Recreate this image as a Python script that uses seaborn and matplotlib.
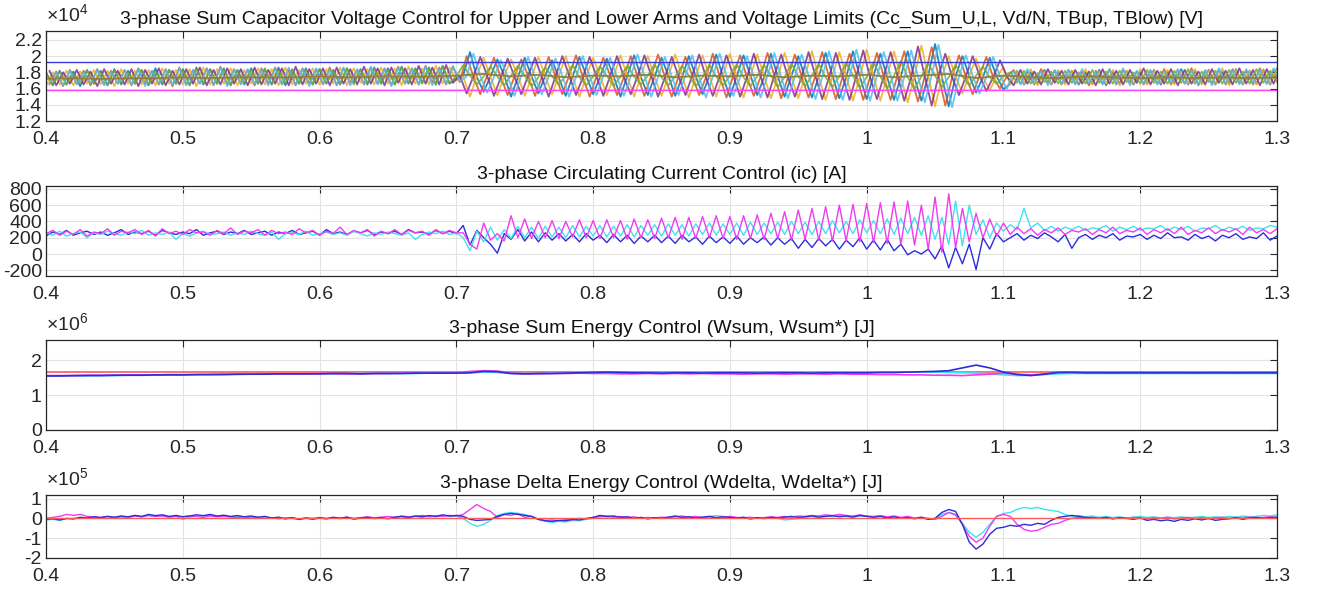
import numpy as np
import matplotlib
matplotlib.use('Agg')
import matplotlib.pyplot as plt
from matplotlib.ticker import FuncFormatter
from matplotlib.transforms import ScaledTranslation
import seaborn as sns

# ---------------- data ----------------
# Panel 1: arm sum capacitor voltages [kV], one value every 5 ms from 0.4 s
cap_1 = [18.0,16.4,18.2,16.5,18.1,16.3,18.3,16.6,18.2,16.4, 18.4,16.5,18.2,16.6,18.3,16.4,18.5,16.5,18.3,16.6,
         18.4,16.4,18.6,16.5,18.4,16.6,18.5,16.4,18.3,16.5, 18.5,16.6,18.4,16.5,18.6,16.4,18.3,16.6,18.5,16.5,
         18.4,16.6,18.3,16.5,18.5,16.7,18.4,16.5,18.6,16.6, 18.5,16.5,18.7,16.6,18.5,16.7,18.6,16.5,18.8,16.6, 17.4,
         17.6,20.5,17.4,15.6, 17.5,19.6,17.6,15.0, 17.4,19.8,17.5,15.4, 17.6,19.5,17.3,15.1, 17.5,19.9,17.6,15.3,
         17.4,19.7,17.5,15.0, 17.6,20.1,17.4,15.2, 17.5,19.8,17.6,15.1, 17.4,20.0,17.5,15.3, 17.6,20.2,17.4,15.0,
         17.5,20.1,17.6,15.2, 17.4,20.3,17.5,15.0, 17.6,20.0,17.3,14.9, 17.5,20.4,17.6,14.8, 17.4,20.6,17.5,14.7,
         17.6,20.3,17.4,14.6, 17.5,20.6,17.3,14.5, 17.6,21.5,17.4,13.8, 17.5,20.0,17.6,15.5, 17.4,19.8,17.5,15.9,
         16.6,18.2,16.5,18.0,16.6,18.3,16.5,18.1,16.7,18.2, 16.5,18.0,16.6,18.3,16.4,18.1,16.6,18.2,16.5,18.0,
         16.6,18.3,16.5,18.1,16.7,18.4,16.5,18.2,16.6,18.3, 16.5,18.1,16.6,18.4,16.5,18.2,16.6,18.3,16.5,18.5]
cap_2 = [16.5,18.1,16.3,18.3,16.6,18.2,16.4,18.4,16.5,18.2, 16.6,18.3,16.4,18.5,16.6,18.2,16.5,18.4,16.3,18.6,
         16.5,18.3,16.6,18.5,16.4,18.7,16.5,18.4,16.6,18.3, 16.4,18.5,16.6,18.6,16.5,18.3,16.4,18.5,16.6,18.4,
         16.5,18.6,16.4,18.5,16.7,18.3,16.5,18.6,16.6,18.5, 16.4,18.7,16.6,18.5,16.5,18.8,16.7,18.6,16.5,18.7, 16.8,
         20.0,17.5,15.3,17.6, 19.8,17.4,15.2,17.5, 19.6,17.6,15.1,17.4, 19.9,17.5,15.3,17.6, 20.1,17.4,15.0,17.5,
         19.8,17.6,15.2,17.4, 20.0,17.5,15.1,17.6, 20.2,17.4,15.0,17.5, 19.9,17.6,15.2,17.4, 20.3,17.5,14.9,17.6,
         20.1,17.4,15.1,17.5, 20.4,17.6,14.8,17.4, 20.2,17.5,14.9,17.6, 20.5,17.4,14.7,17.5, 20.3,17.6,14.6,17.4,
         20.4,17.5,14.6,17.6, 20.6,17.4,14.4,17.5, 21.1,17.6,13.9,17.4, 20.1,17.5,15.3,17.6, 19.9,17.4,16.0,17.5,
         18.3,16.6,18.1,16.5,18.4,16.7,18.2,16.5,18.3,16.6, 18.1,16.4,18.2,16.6,18.4,16.5,18.3,16.7,18.1,16.5,
         18.2,16.6,18.4,16.5,18.3,16.6,18.5,16.4,18.2,16.6, 18.3,16.5,18.4,16.7,18.2,16.5,18.5,16.6,18.3,16.5]
cap_3 = [16.3,18.0,16.5,18.2,16.4,18.1,16.6,18.3,16.5,18.2, 16.3,18.4,16.6,18.2,16.5,18.3,16.4,18.5,16.6,18.3,
         16.5,18.4,16.3,18.6,16.5,18.4,16.6,18.5,16.4,18.3, 16.6,18.5,16.5,18.4,16.4,18.6,16.5,18.3,16.6,18.5,
         16.5,18.4,16.6,18.6,16.4,18.5,16.7,18.4,16.5,18.6, 16.6,18.5,16.4,18.7,16.6,18.5,16.5,18.8,16.6,18.6, 17.0,
         17.5,15.0,17.6,19.8, 17.4,15.2,17.5,19.6, 17.6,15.1,17.4,19.9, 17.5,15.3,17.6,20.0, 17.4,15.0,17.5,19.8,
         17.6,15.2,17.4,20.1, 17.5,15.0,17.6,20.0, 17.4,15.1,17.5,20.2, 17.6,14.9,17.4,20.1, 17.5,15.0,17.6,20.3,
         17.4,14.9,17.5,20.2, 17.6,14.8,17.4,20.4, 17.5,14.8,17.6,20.6, 17.4,14.6,17.5,20.5, 17.6,14.5,17.4,20.8,
         17.5,14.5,17.6,20.6, 17.4,14.3,17.5,21.3, 17.6,13.8,17.4,20.0, 17.5,15.4,17.6,19.7, 17.4,15.8,17.5,18.6,
         16.5,18.2,16.6,18.4,16.4,18.1,16.6,18.3,16.5,18.2, 16.7,18.4,16.5,18.1,16.6,18.3,16.4,18.2,16.6,18.4,
         16.5,18.2,16.7,18.3,16.5,18.1,16.6,18.4,16.5,18.2, 16.6,18.5,16.4,18.3,16.6,18.2,16.5,18.4,16.6,18.3]
cap_4 = [18.2,16.4,18.0,16.6,18.3,16.5,18.1,16.3,18.4,16.6, 18.2,16.5,18.4,16.3,18.3,16.6,18.5,16.4,18.2,16.5,
         18.4,16.6,18.6,16.4,18.3,16.5,18.5,16.6,18.4,16.4, 18.6,16.5,18.3,16.6,18.5,16.4,18.7,16.5,18.4,16.6,
         18.5,16.4,18.6,16.6,18.4,16.5,18.7,16.6,18.5,16.4, 18.6,16.7,18.5,16.5,18.8,16.6,18.6,16.5,18.9,16.7, 17.6,
         15.4,17.5,19.9,17.6, 15.1,17.4,19.7,17.5, 15.3,17.6,19.8,17.4, 15.0,17.5,20.0,17.6, 15.2,17.4,19.9,17.5,
         15.1,17.6,20.0,17.4, 15.3,17.5,20.1,17.6, 15.0,17.4,19.9,17.5, 15.2,17.6,20.2,17.4, 15.1,17.5,20.1,17.6,
         15.0,17.4,20.3,17.5, 14.9,17.6,20.2,17.4, 15.0,17.5,20.5,17.6, 14.7,17.4,20.4,17.5, 14.6,17.6,20.7,17.4,
         14.7,17.5,20.5,17.6, 14.5,17.4,21.2,17.5, 13.9,17.6,20.3,17.4, 15.2,17.5,20.0,17.6, 15.7,17.4,19.5,17.5,
         16.4,18.3,16.6,18.1,16.5,18.4,16.7,18.2,16.5,18.3, 16.6,18.1,16.4,18.4,16.6,18.2,16.5,18.3,16.7,18.5,
         16.5,18.2,16.6,18.4,16.4,18.3,16.6,18.1,16.5,18.4, 16.7,18.2,16.5,18.5,16.6,18.3,16.4,18.4,16.6,18.6]
cap_5 = [17.9,16.6,18.1,16.5,17.9,16.7,18.2,16.6,18.0,16.5, 18.2,16.7,18.0,16.6,18.3,16.5,18.1,16.7,18.3,16.6,
         18.2,16.5,18.4,16.7,18.2,16.6,18.4,16.5,18.2,16.7, 18.3,16.6,18.5,16.5,18.2,16.7,18.4,16.6,18.3,16.5,
         18.4,16.7,18.2,16.6,18.5,16.5,18.3,16.7,18.4,16.6, 18.3,16.5,18.6,16.7,18.4,16.6,18.5,16.5,18.7,16.7, 17.5,
         18.9,17.6,16.5,17.5, 18.7,17.5,16.4,17.6, 18.8,17.6,16.3,17.4, 18.6,17.5,16.5,17.6, 18.9,17.4,16.4,17.5,
         18.7,17.6,16.3,17.5, 18.8,17.5,16.5,17.6, 19.0,17.4,16.4,17.5, 18.8,17.6,16.3,17.4, 18.9,17.5,16.4,17.6,
         19.0,17.4,16.3,17.5, 18.9,17.6,16.2,17.4, 19.1,17.5,16.3,17.6, 19.0,17.4,16.2,17.5, 19.2,17.6,16.1,17.4,
         19.3,17.5,16.0,17.6, 19.4,17.4,15.9,17.5, 19.1,17.6,16.2,17.4, 18.9,17.5,16.4,17.6, 18.7,17.4,16.6,17.5,
         18.0,16.7,18.2,16.6,17.9,16.8,18.1,16.6,18.2,16.7, 18.0,16.6,18.3,16.7,18.1,16.6,18.2,16.8,18.0,16.6,
         18.3,16.7,18.1,16.6,18.2,16.7,18.4,16.6,18.1,16.8, 18.2,16.6,18.3,16.7,18.1,16.6,18.4,16.7,18.2,16.8]
cap_6 = [16.6,18.0,16.4,18.2,16.5,18.0,16.7,18.3,16.4,18.1, 16.6,18.2,16.5,18.4,16.3,18.2,16.6,18.3,16.5,18.5,
         16.4,18.2,16.6,18.4,16.5,18.6,16.3,18.3,16.5,18.4, 16.6,18.3,16.4,18.5,16.6,18.6,16.5,18.4,16.3,18.5,
         16.6,18.3,16.5,18.6,16.4,18.4,16.6,18.7,16.5,18.4, 16.3,18.6,16.6,18.4,16.5,18.7,16.4,18.5,16.6,18.8, 16.9,
         17.5,20.3,17.6,15.5, 17.4,19.5,17.5,15.1, 17.6,19.9,17.4,15.3, 17.5,19.7,17.6,15.0, 17.4,20.0,17.5,15.2,
         17.6,19.8,17.4,15.1, 17.5,20.2,17.6,15.0, 17.4,19.9,17.5,15.2, 17.6,20.1,17.4,14.9, 17.5,20.3,17.6,15.1,
         17.4,20.0,17.5,14.9, 17.6,20.4,17.4,14.8, 17.5,20.2,17.6,14.7, 17.4,20.6,17.5,14.6, 17.6,20.8,17.4,14.5,
         17.5,20.5,17.6,14.5, 17.4,20.7,17.5,14.3, 17.6,21.4,17.4,13.7, 17.5,20.1,17.6,15.4, 17.4,19.9,17.5,16.0,
         18.2,16.5,18.4,16.6,18.1,16.4,18.3,16.6,18.2,16.5, 18.4,16.7,18.1,16.5,18.3,16.6,18.5,16.4,18.2,16.6,
         18.3,16.5,18.1,16.7,18.4,16.6,18.2,16.5,18.3,16.4, 18.5,16.6,18.2,16.5,18.4,16.7,18.3,16.6,18.5,16.7]
# Vd/N reference [kV], one value every 20 ms
vd_n = [17.2,17.3,17.2,17.3,17.3,17.4,17.3,17.4,17.4,17.4,17.5,17.4,17.5,17.5,17.5,
        17.6,17.8,17.5,17.7,17.4,17.6,17.5,17.7,17.4,17.6,17.5,17.7,17.4,17.6,17.5,
        17.7,17.4,17.6,17.8,17.3,17.6,17.4,17.3,17.5,17.4,17.3,17.4,17.3,17.4,17.3, 17.4]
tb_up = 19300.0   # V
tb_low = 15850.0  # V

# Panel 2: circulating currents [A], every 5 ms
ic_a = [250,290,230,280,240,300,220,270,250,310, 230,280,260,300,240,290,220,310,250,280,
        240,300,260,270,230,290,250,320,240,280, 260,300,230,290,250,270,240,310,260,290,
        230,280,250,330,240,290,260,300,220,280, 250,300,240,290,260,280,230,300,250,290, 260,
        260,120,60,380,170,250,160,470,200,430, 190,400,200,410,190,400,210,420,200,410,
        190,420,200,410,180,430,200,420,190,440, 200,450,180,450,190,460,200,470,190,460,
        180,470,190,480,180,500,190,520,170,540, 180,560,170,580,160,600,160,610,150,620,
        140,630,130,640,120,650,110,600,60,700, 20,740,80,560,150,500,200,430,220,380,
        240,330,250,310,230,300,260,320,240,290, 270,310,240,300,260,330,250,290,270,320,
        240,300,260,310,250,330,240,290,260,320, 250,300,270,310,240,330,260,300,250,310]
ic_b = [260,230,280,220,250,270,200,260,240,280, 250,230,270,250,290,230,260,240,270,180,
        250,220,260,280,240,250,270,230,260,240, 280,250,230,270,180,250,260,240,280,230,
        250,270,240,260,230,280,250,220,260,240, 270,250,230,260,180,240,270,250,280,240, 260,
        200,40,280,150,330,170,300,190,340,200, 330,190,340,210,330,200,350,210,340,220,
        350,210,340,220,360,210,350,230,360,220, 370,230,360,220,370,240,380,230,370,240,
        380,230,390,240,380,250,390,240,400,250, 390,240,400,250,410,260,400,250,420,260,
        410,250,430,240,440,250,450,230,470,180, 450,120,650,100,600,240,420,200,380,280,
        360,300,560,320,380,290,340,280,330,300, 340,290,320,310,350,280,330,300,340,290,
        320,310,350,290,330,300,340,280,320,310, 350,290,330,300,340,290,320,310,350,330]
ic_c = [220,270,240,290,230,260,280,240,270,230, 260,300,240,270,250,280,230,290,260,240,
        270,250,300,230,260,280,240,270,250,290, 240,260,280,230,270,250,290,240,260,280,
        230,300,250,270,240,280,260,290,240,270, 250,280,240,300,260,270,240,290,250,280, 250,
        350,110,290,200,120,10,250,180,300,160, 270,150,260,170,250,160,240,150,250,170,
        230,140,240,150,230,130,220,150,230,140, 220,130,230,150,210,120,220,140,210,130,
        220,120,200,140,210,110,200,120,190,70, 180,80,190,100,180,60,170,90,200,60,
        170,50,180,40,120,-10,40,0,60,-60, 100,-170,80,-120,120,-190,200,60,250,150,
        200,250,170,230,190,260,210,150,240,70, 200,240,180,230,200,250,170,220,210,240,
        180,230,190,260,200,210,170,240,190,220, 160,230,200,250,180,210,190,260,170,220]

# Panel 3: sum energies [MJ], every 10 ms
wsum_a = [1.56,1.56,1.56,1.57,1.57,1.57,1.58,1.58,1.58,1.59, 1.59,1.59,1.59,1.60,1.60,1.60,1.61,1.61,1.61,1.61,
          1.62,1.62,1.61,1.61,1.62,1.62,1.63,1.63,1.63,1.63, 1.64,1.68,1.70,1.69,1.63,1.61,1.61,1.62,1.62,1.63,
          1.62,1.62,1.61,1.61,1.62,1.61,1.62,1.61,1.62,1.61, 1.61,1.60,1.61,1.61,1.60,1.61,1.61,1.60,1.61,1.60,
          1.60,1.59,1.59,1.58,1.58,1.57,1.57,1.56,1.58,1.60, 1.63,1.60,1.58,1.61,1.65,1.66,1.65,1.65,1.64,1.65,
          1.65,1.64,1.65,1.65,1.64,1.65,1.65,1.64,1.65,1.65, 1.65]
wsum_b = [1.55,1.55,1.55,1.56,1.56,1.56,1.57,1.57,1.57,1.58, 1.58,1.58,1.59,1.59,1.59,1.60,1.60,1.60,1.61,1.61,
          1.61,1.61,1.61,1.62,1.62,1.62,1.62,1.62,1.63,1.63, 1.63,1.64,1.66,1.65,1.62,1.62,1.62,1.63,1.63,1.64,
          1.64,1.65,1.64,1.64,1.64,1.64,1.64,1.64,1.64,1.64, 1.64,1.65,1.64,1.65,1.64,1.65,1.65,1.64,1.65,1.65,
          1.65,1.66,1.66,1.66,1.66,1.66,1.65,1.64,1.63,1.61, 1.58,1.56,1.57,1.59,1.61,1.62,1.62,1.62,1.62,1.62,
          1.62,1.62,1.62,1.62,1.62,1.62,1.62,1.62,1.62,1.62, 1.62]
wsum_c = [1.55,1.55,1.56,1.56,1.56,1.57,1.57,1.57,1.58,1.58, 1.58,1.59,1.59,1.59,1.60,1.60,1.60,1.61,1.61,1.61,
          1.61,1.62,1.62,1.61,1.62,1.62,1.62,1.63,1.63,1.63, 1.63,1.64,1.68,1.67,1.62,1.61,1.62,1.62,1.63,1.64,
          1.65,1.66,1.65,1.64,1.64,1.63,1.64,1.64,1.63,1.64, 1.64,1.64,1.63,1.64,1.64,1.64,1.63,1.64,1.64,1.64,
          1.64,1.65,1.65,1.66,1.67,1.68,1.70,1.78,1.86,1.78, 1.66,1.59,1.56,1.60,1.65,1.65,1.64,1.64,1.64,1.64,
          1.64,1.64,1.64,1.64,1.64,1.64,1.64,1.64,1.64,1.64, 1.64]
wsum_ref = 1.65e6  # J

# Panel 4: delta energies [x1e5 J], every 5 ms
wd_a = [0.00,0.05,0.10,0.20,0.15,0.20,0.10,0.08,0.05,0.10, 0.02,0.08,0.05,0.12,0.08,0.15,0.10,0.12,0.06,0.10,
        0.08,0.12,0.10,0.05,0.12,0.08,0.10,0.06,0.04,0.08, 0.02,0.05,0.00,0.04,-0.02,0.03,0.00,-0.03,0.02,0.00,
        0.04,0.00,0.05,0.02,0.06,0.00,0.04,0.08,0.03,0.06, 0.10,0.05,0.12,0.08,0.10,0.15,0.08,0.12,0.10,0.15, 0.12,
        0.20,0.45,0.70,0.50,0.35,0.05,0.20,0.15,0.25,0.05, 0.10,-0.05,-0.10,-0.08,-0.12,-0.05,-0.08,0.00,-0.03,0.05,
        0.08,0.12,0.06,0.10,0.04,0.08,0.00,0.05,0.02,0.06, 0.04,0.08,0.12,0.06,0.10,0.04,0.08,0.02,0.06,0.10,
        0.05,0.02,0.06,0.00,0.04,0.08,0.05,0.10,0.06,0.12, 0.10,0.15,0.12,0.18,0.14,0.20,0.15,0.12,0.18,0.12,
        0.10,0.14,0.08,0.12,0.05,0.10,0.02,0.06,0.00,-0.05, 0.10,0.30,0.20,-0.30,-0.90,-1.20,-1.00,-0.40,0.10,0.20,
        0.10,-0.30,-0.55,-0.65,-0.60,-0.45,-0.30,-0.25,-0.10,0.00, 0.05,0.02,0.06,0.00,0.04,-0.02,0.03,0.00,0.05,0.02,
        -0.02,0.04,0.00,0.06,-0.03,0.02,0.05,0.00,0.04,-0.02, 0.03,0.06,0.00,0.05,0.02,0.07,0.03,0.05,0.08,0.04]
wd_b = [-0.08,-0.05,-0.10,-0.02,0.00,0.05,0.02,0.06,0.03,0.08, 0.04,0.10,0.06,0.12,0.08,0.14,0.10,0.12,0.08,0.10,
        -0.05,0.06,0.10,0.12,0.16,0.10,0.14,0.08,0.12,0.06, 0.10,0.04,0.08,0.00,0.04,-0.04,0.02,-0.06,0.00,-0.05,
        0.02,-0.03,0.04,-0.02,0.05,-0.04,0.00,0.04,-0.02,0.02, 0.00,0.05,0.08,0.04,0.10,0.06,0.12,0.08,0.15,0.10, 0.12,
        0.00,-0.25,-0.40,-0.30,-0.10,0.15,0.25,0.30,0.25,0.20, 0.10,-0.05,-0.15,-0.20,-0.15,-0.18,-0.10,-0.12,-0.05,0.02,
        0.10,0.06,0.10,0.04,0.06,0.00,0.03,-0.02,0.02,0.00, 0.05,0.10,0.04,0.08,0.02,0.06,0.10,0.14,0.10,0.05,
        0.00,0.04,-0.04,0.02,-0.02,0.04,0.00,-0.08,-0.05,0.00, 0.06,0.10,0.05,0.12,0.08,0.14,0.10,0.08,0.12,0.10,
        0.08,0.12,0.06,0.10,0.02,0.06,0.00,0.04,-0.05,0.00, 0.20,0.30,0.15,-0.25,-0.70,-0.95,-0.70,-0.30,0.10,0.25,
        0.30,0.45,0.55,0.50,0.55,0.45,0.40,0.35,0.20,0.10, 0.15,0.08,0.12,0.05,0.10,0.04,0.08,0.02,0.06,0.10,
        0.05,0.08,0.02,0.06,0.04,0.08,0.03,0.06,0.10,0.05, 0.08,0.04,0.10,0.06,0.12,0.08,0.10,0.15,0.12,0.18]
wd_c = [-0.05,-0.02,-0.08,0.00,-0.03,0.05,0.02,0.08,0.04,0.10, 0.06,0.12,0.08,0.15,0.10,0.20,0.14,0.18,0.10,0.15,
        0.08,0.12,0.18,0.14,0.20,0.12,0.16,0.10,0.14,0.08, 0.12,0.06,0.10,0.02,0.06,-0.02,0.04,-0.05,0.02,-0.04,
        0.03,-0.02,0.05,0.00,0.06,-0.03,0.02,0.05,0.00,0.04, -0.02,0.06,0.10,0.05,0.12,0.08,0.14,0.10,0.18,0.12, 0.15,
        0.10,-0.05,-0.10,-0.08,-0.05,0.10,0.20,0.25,0.20,0.15, 0.10,-0.05,-0.12,-0.15,-0.10,-0.12,-0.05,-0.08,0.00,0.05,
        0.15,0.10,0.12,0.05,0.08,0.00,0.05,-0.02,0.04,0.00, 0.06,0.12,0.05,0.08,0.02,0.06,0.10,0.04,0.08,0.05,
        0.02,0.06,-0.02,0.04,0.00,0.05,0.02,0.06,0.10,0.05, 0.08,0.12,0.06,0.10,0.14,0.08,0.12,0.06,0.15,0.10,
        0.05,0.10,0.02,0.08,0.00,0.04,-0.02,0.05,-0.05,0.00, 0.30,0.45,0.35,-0.30,-1.20,-1.55,-1.30,-0.80,-0.50,-0.45,
        -0.35,-0.40,-0.30,-0.35,-0.25,-0.30,-0.10,0.05,0.10,0.15, 0.10,0.05,0.02,0.00,0.05,-0.02,0.03,0.00,-0.05,0.02,
        -0.10,-0.05,-0.12,-0.08,-0.15,-0.05,-0.10,-0.02,-0.08,0.00, -0.10,-0.05,-0.02,0.03,-0.05,0.02,0.05,0.00,0.04,0.06]
wdelta_ref = 0.0


def times(vals, step, start=0.4):
    return start + step * np.arange(len(vals))


# ---------------- style ----------------
sns.set_theme(style='white')
plt.rcParams['font.family'] = ['Liberation Sans', 'DejaVu Sans']
plt.rcParams['mathtext.default'] = 'regular'
plt.rcParams['axes.unicode_minus'] = False

FS = 14
MAGENTA = '#f03cf0'
CYAN = '#3de3ee'
BLUE = '#2c2cdc'
RED = '#ff5a5a'
cap_colors = ['#0072BD', '#D95319', '#EDB120', '#7E2F8E', '#77AC30', '#4DBEEE']

fig = plt.figure(figsize=(13.18, 5.89), dpi=100)
left, width = 46 / 1318, (1277 - 46) / 1318
ax1 = fig.add_axes([left, 1 - 121 / 589, width, 90 / 589])
ax2 = fig.add_axes([left, 1 - 276 / 589, width, 90 / 589])
ax3 = fig.add_axes([left, 1 - 430 / 589, width, 90 / 589])
ax4 = fig.add_axes([left, 1 - 558 / 589, width, 63 / 589])

g = lambda v, p: '{:g}'.format(round(v, 6))


def style(ax, title, yticks, ylim, scale=1.0, expo=None):
    ax.set_xlim(0.4, 1.3)
    ax.set_ylim(*ylim)
    ax.set_xticks(np.round(np.arange(0.4, 1.31, 0.1), 1))
    ax.set_yticks(yticks)
    ax.xaxis.set_major_formatter(FuncFormatter(g))
    ax.yaxis.set_major_formatter(FuncFormatter(lambda v, p: g(v / scale, p)))
    ax.grid(True, color='#e3e3e3', lw=0.8)
    ax.set_axisbelow(True)
    ax.tick_params(direction='in', length=5, width=0.8, colors='#262626',
                   labelsize=FS, top=True, right=True)
    ax.tick_params(axis='x', pad=7)
    ax.tick_params(axis='y', pad=3)
    for s in ax.spines.values():
        s.set_color('#262626')
        s.set_linewidth(0.9)
    ax.set_xlabel('')
    ax.set_ylabel('')
    ax.set_title(title, fontsize=FS, pad=5, color='#111111')
    if expo is not None:
        off = ScaledTranslation(0, 4 / 72, fig.dpi_scale_trans)
        ax.text(0.0, 1.0, r'$\times10^{%d}$' % expo, transform=ax.transAxes + off,
                ha='left', va='bottom', fontsize=FS, color='#262626')


# ---- panel 1 ----
for i, (vals, c) in enumerate(zip([cap_1, cap_2, cap_3, cap_4, cap_5, cap_6], cap_colors)):
    start = 0.4 if i % 2 == 0 else 0.4025
    sns.lineplot(x=times(vals, 0.005, start), y=np.array(vals) * 1000, ax=ax1,
                 color=c, lw=1.3, alpha=0.85)
sns.lineplot(x=times(vd_n, 0.02), y=np.array(vd_n) * 1000, ax=ax1, color='#9a7b3c', lw=1.3)
ax1.axhline(tb_up, color='#3a3ae0', lw=1.0)
ax1.axhline(tb_low, color='#ff40ff', lw=1.0)
style(ax1, '3-phase Sum Capacitor Voltage Control for Upper and Lower Arms and Voltage Limits '
           '(Cc_Sum_U,L, Vd/N, TBup, TBlow) [V]',
      np.arange(12000, 22001, 2000), (12000, 23100), scale=1e4, expo=4)

# ---- panel 2 ----
for vals, c in [(ic_c, BLUE), (ic_b, CYAN), (ic_a, MAGENTA)]:
    sns.lineplot(x=times(vals, 0.005), y=vals, ax=ax2, color=c, lw=1.0)
style(ax2, '3-phase Circulating Current Control (ic) [A]',
      np.arange(-200, 801, 200), (-270, 835))

# ---- panel 3 ----
ax3.axhline(wsum_ref, color=RED, lw=1.2)
for vals, c in [(wsum_b, CYAN), (wsum_a, MAGENTA), (wsum_c, BLUE)]:
    sns.lineplot(x=times(vals, 0.01), y=np.array(vals) * 1e6, ax=ax3, color=c, lw=1.2)
style(ax3, '3-phase Sum Energy Control (Wsum, Wsum*) [J]',
      [0, 1e6, 2e6], (0, 2.58e6), scale=1e6, expo=6)

# ---- panel 4 ----
for vals, c in [(wd_b, CYAN), (wd_a, MAGENTA), (wd_c, BLUE)]:
    sns.lineplot(x=times(vals, 0.005), y=np.array(vals) * 1e5, ax=ax4, color=c, lw=1.0)
ax4.axhline(wdelta_ref, color=RED, lw=1.0)
style(ax4, '3-phase Delta Energy Control (Wdelta, Wdelta*) [J]',
      [-2e5, -1e5, 0, 1e5], (-2e5, 1.18e5), scale=1e5, expo=5)

fig.savefig('out.png', dpi=100)
